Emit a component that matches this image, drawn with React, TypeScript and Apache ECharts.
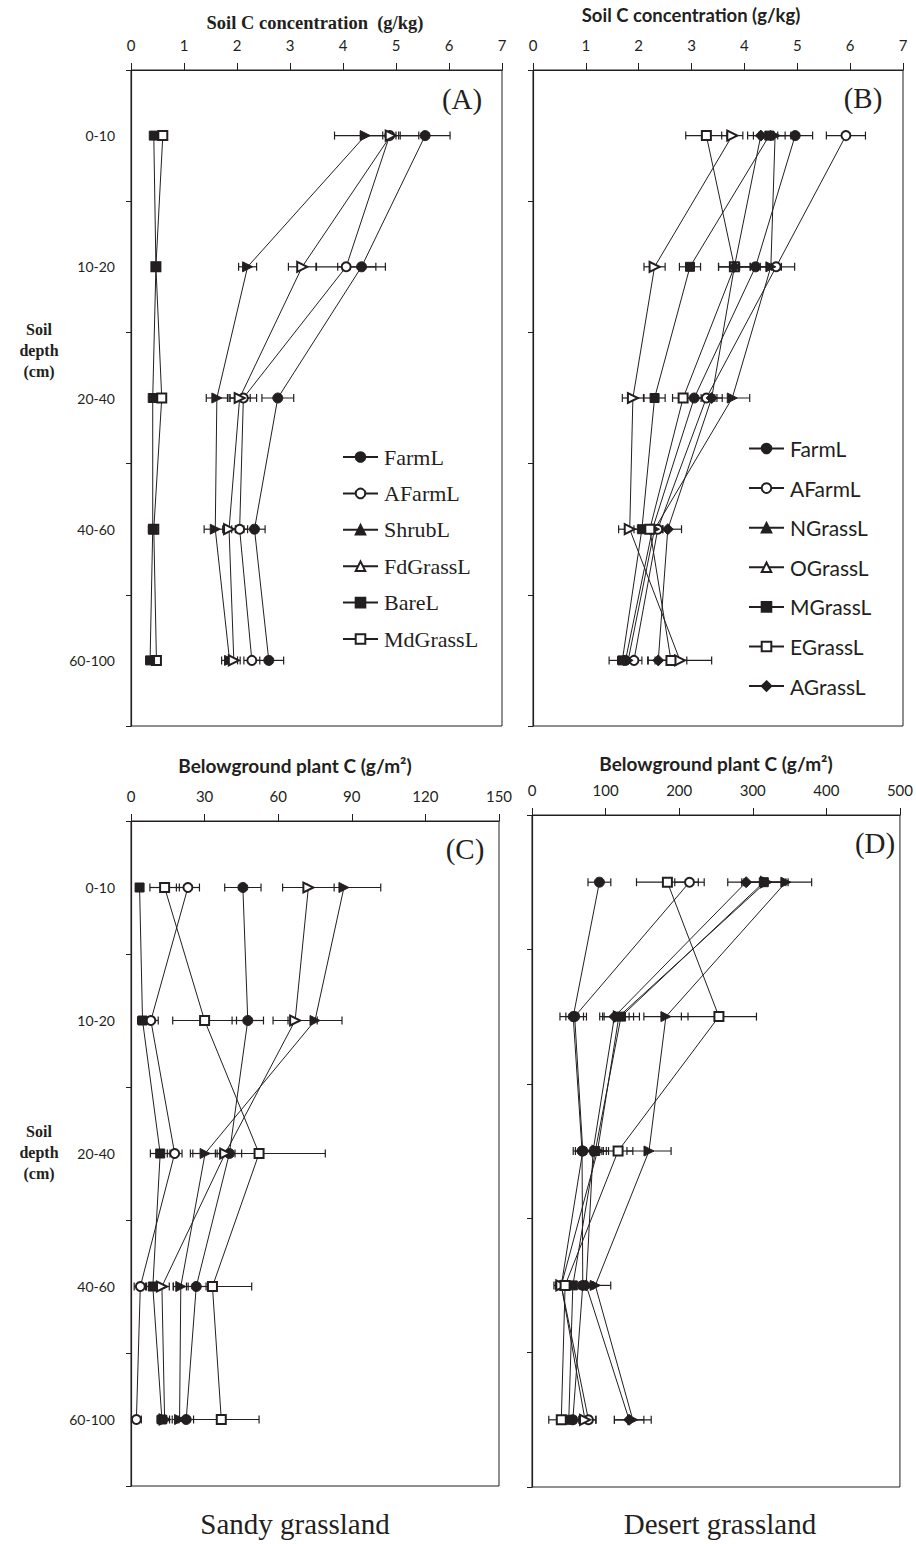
import React, { useEffect, useRef } from 'react';
import * as echarts from 'echarts';

const INK = '#231f20';
const depths = ['0-10', '10-20', '20-40', '40-60', '60-100'];

// Panel A – Sandy grassland, soil C (g/kg)
const aFarmL = [5.55, 4.35, 2.77, 2.33, 2.6];
const aFarmLErr = [0.47, 0.45, 0.3, 0.2, 0.28];
const aAFarmL = [4.88, 4.06, 2.12, 2.05, 2.28];
const aAFarmLErr = [0.55, 0.56, 0.25, 0.15, 0.15];
const aShrubL = [4.42, 2.2, 1.62, 1.59, 1.86];
const aShrubLErr = [0.58, 0.17, 0.2, 0.21, 0.15];
const aFdGrassL = [4.9, 3.23, 2.05, 1.85, 1.94];
const aFdGrassLErr = [0.15, 0.26, 0.2, 0.12, 0.12];
const aBareL = [0.43, 0.47, 0.41, 0.41, 0.36];
const aBareLErr = [0.04, 0.03, 0.04, 0.03, 0.03];
const aMdGrassL = [0.6, 0.47, 0.58, 0.43, 0.48];
const aMdGrassLErr = [0.05, 0.04, 0.05, 0.04, 0.04];

// Panel B – Desert grassland, soil C (g/kg)
const bFarmL = [4.96, 4.21, 3.05, 2.26, 1.75];
const bFarmLErr = [0.33, 0.3, 0.2, 0.2, 0.15];
const bAFarmL = [5.92, 4.6, 3.28, 2.36, 1.91];
const bAFarmLErr = [0.37, 0.35, 0.2, 0.2, 0.15];
const bNGrassL = [4.58, 4.5, 3.77, 2.3, 1.8];
const bNGrassLErr = [0.3, 0.2, 0.33, 0.15, 0.15];
const bOGrassL = [3.77, 2.3, 1.89, 1.83, 2.78];
const bOGrassLErr = [0.2, 0.2, 0.2, 0.21, 0.6];
const bMGrassL = [4.47, 2.97, 2.3, 2.06, 1.69];
const bMGrassLErr = [0.3, 0.2, 0.2, 0.15, 0.25];
const bEGrassL = [3.28, 3.81, 2.84, 2.21, 2.61];
const bEGrassLErr = [0.39, 0.3, 0.2, 0.2, 0.3];
const bAGrassL = [4.31, 3.81, 3.38, 2.55, 2.37];
const bAGrassLErr = [0.25, 0.3, 0.2, 0.26, 0.2];

// Panel C – Sandy grassland, belowground plant C (g/m2)
const cFarmL = [45.6, 47.6, 40.1, 26.6, 22.5];
const cFarmLErr = [7.4, 6.4, 5, 4, 3];
const cAFarmL = [23.2, 8.1, 17.8, 3.8, 2.2];
const cAFarmLErr = [4.7, 3, 3, 2.5, 2];
const cShrubL = [86.8, 75.0, 30.2, 20.3, 19.8];
const cShrubLErr = [15, 11, 6, 3, 3];
const cFdGrassL = [72.3, 66.9, 38.4, 12.6, 13.7];
const cFdGrassLErr = [10.5, 9, 4, 3, 2];
const cBareL = [3.5, 4.7, 11.9, 8.9, 12.6];
const cBareLErr = [1.5, 2, 4, 3, 2];
const cMdGrassL = [13.7, 30.0, 52.2, 33.2, 36.8];
const cMdGrassLErr = [6, 13, 27, 16, 15.4];

// Panel D – Desert grassland, belowground plant C (g/m2)
const dFarmL = [91.6, 56, 68, 69, 55.5];
const dFarmLErr = [15.5, 18, 12, 10, 8];
const dAFarmL = [214, 58, 69, 39.8, 76.7];
const dAFarmLErr = [20, 12, 10, 8, 10];
const dNGrassL = [345, 182, 159, 86, 137];
const dNGrassLErr = [35, 30, 30, 21, 25];
const dOGrassL = [318, 118, 89, 39.8, 72];
const dOGrassLErr = [30, 20, 15, 10, 15];
const dMGrassL = [315, 121, 86, 55.5, 50];
const dMGrassLErr = [30, 25, 15, 10, 10];
const dEGrassL = [184, 254, 117, 45, 39.8];
const dEGrassLErr = [42, 51, 20, 12, 17];
const dAGrassL = [291, 112, 83, 73.6, 132];
const dAGrassLErr = [25, 20, 12, 10, 20];

const soilMax = 7;
const soilInterval = 1;
const sandyRootMax = 150;
const sandyRootInterval = 30;
const desertRootMax = 500;
const desertRootInterval = 100;

const legendA = ['FarmL', 'AFarmL', 'ShrubL', 'FdGrassL', 'BareL', 'MdGrassL'];
const legendB = ['FarmL', 'AFarmL', 'NGrassL', 'OGrassL', 'MGrassL', 'EGrassL', 'AGrassL'];

type Sym = { symbol: string; size: number; rotate?: number };
const SYM: Record<string, Sym> = {
  FarmL: { symbol: 'circle', size: 10 },
  AFarmL: { symbol: 'emptyCircle', size: 9 },
  ShrubL: { symbol: 'triangle', size: 10, rotate: -90 },
  NGrassL: { symbol: 'triangle', size: 10, rotate: -90 },
  FdGrassL: { symbol: 'emptyTriangle', size: 10, rotate: -90 },
  OGrassL: { symbol: 'emptyTriangle', size: 10, rotate: -90 },
  BareL: { symbol: 'rect', size: 9 },
  MGrassL: { symbol: 'rect', size: 9 },
  MdGrassL: { symbol: 'emptyRect', size: 9 },
  EGrassL: { symbol: 'emptyRect', size: 9 },
  AGrassL: { symbol: 'diamond', size: 11 },
};

const errRender = (params: any, api: any) => {
  const x = api.value(0);
  const y = api.value(1);
  const e = api.value(2);
  const c = api.coord([x, y]);
  const l = api.coord([x - e, y]);
  const r = api.coord([x + e, y]);
  const h = 4;
  const style = { stroke: INK, lineWidth: 1.2 };
  return {
    type: 'group',
    children: [
      { type: 'line', shape: { x1: l[0], y1: c[1], x2: r[0], y2: c[1] }, style },
      { type: 'line', shape: { x1: l[0], y1: c[1] - h, x2: l[0], y2: c[1] + h }, style },
      { type: 'line', shape: { x1: r[0], y1: c[1] - h, x2: r[0], y2: c[1] + h }, style },
    ],
  };
};

function makeSeries(idx: number, name: string, vals: number[], errs: number[]): any[] {
  const s = SYM[name];
  return [
    {
      type: 'custom',
      name: name + ' error ' + idx,
      xAxisIndex: idx,
      yAxisIndex: idx,
      renderItem: errRender,
      encode: { x: 0, y: 1 },
      data: vals.map((v, i) => [v, i, errs[i]]),
      z: 1,
      silent: true,
    },
    {
      type: 'line',
      name,
      xAxisIndex: idx,
      yAxisIndex: idx,
      data: vals.map((v, i) => [v, depths[i]]),
      symbol: s.symbol,
      symbolSize: s.size,
      symbolRotate: s.rotate || 0,
      showAllSymbol: true,
      lineStyle: { color: INK, width: 1 },
      itemStyle: { color: INK, borderColor: INK, borderWidth: 1 },
      z: 3,
    },
  ];
}

export default function App() {
  const ref = useRef<HTMLDivElement>(null);
  useEffect(() => {
    if (!ref.current) return;
    const chart = echarts.init(ref.current, undefined, { renderer: 'svg' });

    const grids = [
      { left: 131, top: 70, width: 371, height: 656 },
      { left: 533, top: 70, width: 370, height: 656 },
      { left: 131, top: 821, width: 368, height: 665 },
      { left: 532, top: 815, width: 370, height: 672 },
    ].map((g) => ({ ...g, show: true, borderColor: INK, borderWidth: 1, backgroundColor: 'transparent' }));

    const xAxisBase = (gi: number, max: number, interval: number) => ({
      type: 'value',
      gridIndex: gi,
      position: 'top',
      min: 0,
      max,
      interval,
      axisLine: { show: true, lineStyle: { color: INK, width: 1.2 } },
      axisTick: { show: true, length: 7, lineStyle: { color: INK } },
      splitLine: { show: false },
      axisLabel: { fontFamily: 'Lato', fontSize: 15, color: INK, margin: 18 },
    });

    const yAxisBase = (gi: number, showLabel: boolean) => ({
      type: 'category',
      gridIndex: gi,
      data: depths,
      inverse: true,
      axisLine: { show: true, lineStyle: { color: INK, width: 1.2 } },
      axisTick: { show: true, length: 5, lineStyle: { color: INK } },
      axisLabel: { show: showLabel, fontFamily: 'Lato', fontSize: 14, color: INK, margin: 16 },
      splitLine: { show: false },
    });

    const series: any[] = [
      ...makeSeries(0, 'FarmL', aFarmL, aFarmLErr),
      ...makeSeries(0, 'AFarmL', aAFarmL, aAFarmLErr),
      ...makeSeries(0, 'ShrubL', aShrubL, aShrubLErr),
      ...makeSeries(0, 'FdGrassL', aFdGrassL, aFdGrassLErr),
      ...makeSeries(0, 'MdGrassL', aMdGrassL, aMdGrassLErr),
      ...makeSeries(0, 'BareL', aBareL, aBareLErr),
      ...makeSeries(1, 'FarmL', bFarmL, bFarmLErr),
      ...makeSeries(1, 'AFarmL', bAFarmL, bAFarmLErr),
      ...makeSeries(1, 'NGrassL', bNGrassL, bNGrassLErr),
      ...makeSeries(1, 'OGrassL', bOGrassL, bOGrassLErr),
      ...makeSeries(1, 'MGrassL', bMGrassL, bMGrassLErr),
      ...makeSeries(1, 'EGrassL', bEGrassL, bEGrassLErr),
      ...makeSeries(1, 'AGrassL', bAGrassL, bAGrassLErr),
      ...makeSeries(2, 'FarmL', cFarmL, cFarmLErr),
      ...makeSeries(2, 'AFarmL', cAFarmL, cAFarmLErr),
      ...makeSeries(2, 'ShrubL', cShrubL, cShrubLErr),
      ...makeSeries(2, 'FdGrassL', cFdGrassL, cFdGrassLErr),
      ...makeSeries(2, 'BareL', cBareL, cBareLErr),
      ...makeSeries(2, 'MdGrassL', cMdGrassL, cMdGrassLErr),
      ...makeSeries(3, 'AFarmL', dAFarmL, dAFarmLErr),
      ...makeSeries(3, 'FarmL', dFarmL, dFarmLErr),
      ...makeSeries(3, 'NGrassL', dNGrassL, dNGrassLErr),
      ...makeSeries(3, 'OGrassL', dOGrassL, dOGrassLErr),
      ...makeSeries(3, 'MGrassL', dMGrassL, dMGrassLErr),
      ...makeSeries(3, 'EGrassL', dEGrassL, dEGrassLErr),
      ...makeSeries(3, 'AGrassL', dAGrassL, dAGrassLErr),
    ];

    const centeredText = (text: string, x: number, y: number, font: any) => ({
      type: 'text',
      x,
      y,
      style: { text, align: 'center', verticalAlign: 'middle', fill: INK, ...font },
    });
    const serifBold = { fontFamily: 'Liberation Serif', fontWeight: 'bold', fontSize: 18.5 };
    const sansBold = { fontFamily: 'Lato', fontWeight: 'bold', fontSize: 18.5 };
    const panelFont = { fontFamily: 'Liberation Serif', fontSize: 29 };
    const depthFont = { fontFamily: 'Liberation Serif', fontWeight: 'bold', fontSize: 16, lineHeight: 21 };
    const bottomFont = { fontFamily: 'Liberation Serif', fontSize: 29 };

    chart.setOption({
      animation: false,
      backgroundColor: '#ffffff',
      grid: grids,
      xAxis: [
        xAxisBase(0, soilMax, soilInterval),
        xAxisBase(1, soilMax, soilInterval),
        xAxisBase(2, sandyRootMax, sandyRootInterval),
        xAxisBase(3, desertRootMax, desertRootInterval),
      ],
      yAxis: [yAxisBase(0, true), yAxisBase(1, false), yAxisBase(2, true), yAxisBase(3, false)],
      legend: [
        {
          orient: 'vertical',
          left: 342,
          top: 446,
          padding: 0,
          data: legendA,
          itemWidth: 35,
          itemHeight: 12,
          itemGap: 14.4,
          symbolRotate: 0,
          selectedMode: false,
          textStyle: { fontFamily: 'Liberation Serif', fontSize: 22, color: INK, padding: [0, 0, 0, 1] },
        },
        {
          orient: 'vertical',
          left: 748,
          top: 438,
          padding: 0,
          data: legendB,
          itemWidth: 35,
          itemHeight: 12,
          itemGap: 18.6,
          symbolRotate: 0,
          selectedMode: false,
          textStyle: { fontFamily: 'Lato', fontSize: 21, color: INK, padding: [0, 0, 0, 1] },
        },
      ],
      graphic: [
        centeredText('Soil C concentration  (g/kg)', 315, 23, serifBold),
        centeredText('Soil C concentration (g/kg)', 691, 15, sansBold),
        centeredText('Belowground plant C (g/m²)', 295, 765, { ...sansBold, fontSize: 19 }),
        centeredText('Belowground plant C (g/m²)', 716, 763, { ...sansBold, fontSize: 19 }),
        centeredText('(A)', 462, 99, panelFont),
        centeredText('(B)', 863, 98, panelFont),
        centeredText('(C)', 465, 849, panelFont),
        centeredText('(D)', 875, 843, panelFont),
        centeredText('Soil\ndepth\n(cm)', 39, 350, depthFont),
        centeredText('Soil\ndepth\n(cm)', 39, 1152, depthFont),
        centeredText('Sandy grassland', 295, 1524, bottomFont),
        centeredText('Desert grassland', 720, 1524, bottomFont),
      ],
      series,
    });

    return () => chart.dispose();
  }, []);

  return (
    <div
      ref={ref}
      style={{ position: 'absolute', left: 0, top: 0, width: 916, height: 1544, background: '#fff' }}
    />
  );
}
